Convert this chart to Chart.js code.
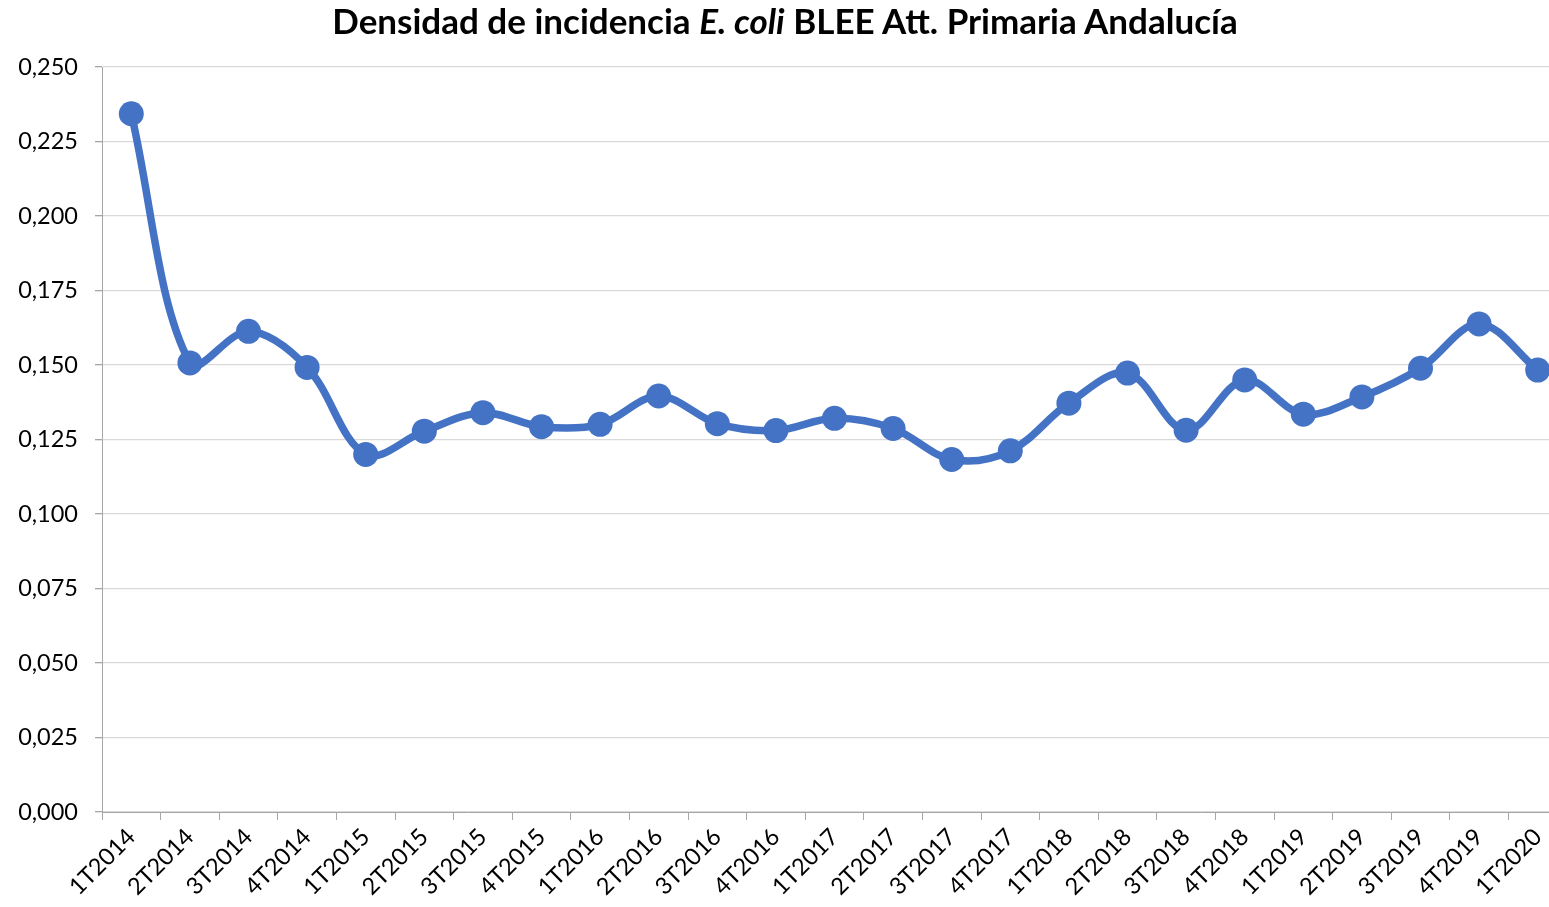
<!DOCTYPE html>
<html>
<head>
<meta charset="utf-8">
<script src="https://cdn.jsdelivr.net/npm/chart.js@4/dist/chart.umd.min.js"></script>
<style>
  html, body { margin: 0; padding: 0; background: #ffffff; overflow: hidden; width: 1549px; height: 907px; }
  #wrap { position: relative; width: 1585px; height: 907px; }
  #title { position: absolute; left: 0; top: -1px; width: 1570px; text-align: center;
           font-family: Lato, sans-serif; font-weight: bold; font-size: 35px; color: #000; line-height: 42px; white-space: nowrap; }
  canvas { position: absolute; left: 0; top: 0; }
</style>
</head>
<body>
<div id="wrap">
  <canvas id="c" width="1585" height="907"></canvas>
  <div id="title">Densidad de incidencia <i>E. coli</i> BLEE Att. Primaria Andalucía</div>
</div>
<script>
const categories = ["1T2014","2T2014","3T2014","4T2014","1T2015","2T2015","3T2015","4T2015",
  "1T2016","2T2016","3T2016","4T2016","1T2017","2T2017","3T2017","4T2017",
  "1T2018","2T2018","3T2018","4T2018","1T2019","2T2019","3T2019","4T2019","1T2020"];
const densidad = [0.2343,0.1507,0.1613,0.1492,0.1200,0.1278,0.1340,0.1293,
  0.1301,0.1396,0.1303,0.1280,0.1321,0.1287,0.1183,0.1212,
  0.1372,0.1473,0.1281,0.1450,0.1335,0.1393,0.1489,0.1638,0.1483];
const yTicks = [0,0.025,0.05,0.075,0.1,0.125,0.15,0.175,0.2,0.225,0.25];

const FONT = "Lato, sans-serif";
const padL = 4, padT = 67, padR = 18, padB = 0;
const axisX = 102, axisY = 812;

new Chart(document.getElementById('c'), {
  type: 'line',
  data: {
    labels: categories,
    datasets: [{
      data: densidad,
      borderColor: '#4472C4',
      backgroundColor: '#4472C4',
      borderWidth: 7.5,
      tension: 0.35,
      pointRadius: 12.5,
      pointBorderWidth: 0,
      pointBackgroundColor: '#4472C4',
      clip: false
    }]
  },
  options: {
    responsive: false,
    animation: false,
    devicePixelRatio: 1,
    layout: { padding: { left: padL, top: padT, right: padR, bottom: padB } },
    plugins: { legend: { display: false }, tooltip: { enabled: false }, title: { display: false } },
    scales: {
      x: {
        type: 'category',
        offset: true,
        grid: { display: true, offset: true, drawOnChartArea: false, drawTicks: true, tickLength: 8, tickColor: '#a6a6a6', lineWidth: 1 },
        border: { display: true, color: '#a6a6a6', width: 1 },
        ticks: { minRotation: 45, maxRotation: 45, autoSkip: false, padding: 3, color: '#000', font: { family: FONT, size: 23.5 } },
        afterFit: (s) => { s.height = 907 - axisY - padB; }
      },
      y: {
        min: 0, max: 0.25,
        afterBuildTicks: (s) => { s.ticks = yTicks.map(v => ({ value: v })); },
        grid: { color: '#d9d9d9', lineWidth: 1.3, tickLength: 7, tickColor: '#a6a6a6' },
        border: { display: true, color: '#a6a6a6', width: 1 },
        ticks: { padding: 17, color: '#000', font: { family: FONT, size: 23.5 },
                 callback: (v) => v.toFixed(3).replace('.', ',') },
        afterFit: (s) => { s.width = axisX - padL; }
      }
    }
  }
});
</script>
</body>
</html>
